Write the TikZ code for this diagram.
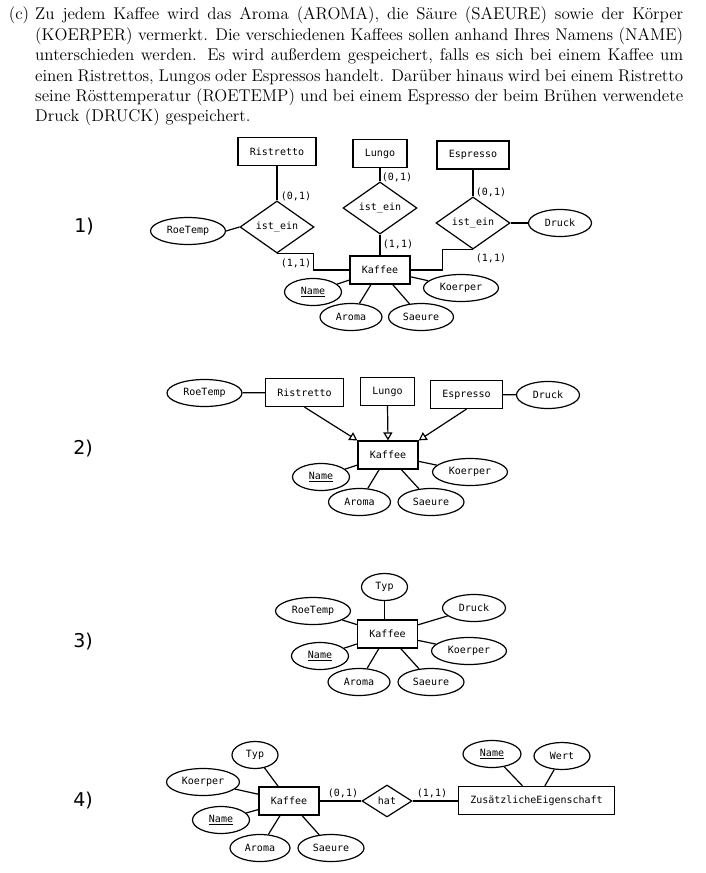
\documentclass[tikz,border=0pt]{standalone}
\usepackage{fontspec}
\usepackage{tikz}
\usetikzlibrary{arrows.meta,shapes.geometric}
\newfontfamily\taskfam{lmroman12-regular.otf}
\newfontfamily\ermonofam{DejaVu Sans Mono}
\newfontfamily\numfam{DejaVu Sans}
\newcommand{\taskfont}{\taskfam\fontsize{17pt}{20.4pt}\selectfont}
\newcommand{\ermono}{\ermonofam\fontsize{10pt}{12pt}\selectfont}
\newcommand{\numfont}{\numfam\fontsize{19pt}{22pt}\selectfont}
\tikzset{
	entity/.style={draw, rectangle, line width=1.2pt, inner xsep=12pt, minimum height=28pt, font=\ermono},
	attr/.style={draw, ellipse, line width=1.2pt, inner sep=0pt, minimum width=#1, minimum height=27pt, font=\ermono},
	rel/.style={draw, diamond, line width=1.2pt, inner sep=0pt, minimum width=74pt, minimum height=44pt, font=\ermono},
	card/.style={inner sep=0pt, font=\ermono},
	link/.style={line width=1.2pt},
	isa/.style={line width=1.2pt, -{Triangle[open, length=8pt, width=9pt]}},
	num/.style={inner sep=0pt, font=\numfont}
}

\begin{document}
\begin{tikzpicture}[x=1pt, y=-1pt]
		%%%%% START %%%%%
		\useasboundingbox (0, 0) rectangle (705, 873);
		
		\node[anchor=north west, inner sep=0pt, text width=648pt, align=justify, font=\taskfont] (task) at (35, 6.9) {\noindent\hyphenpenalty=10000\llap{(c)\hskip 6pt}Zu jedem Kaffee wird das Aroma (AROMA), die Säure (SAEURE) sowie der Körper\linebreak
		(KOERPER) vermerkt. Die verschiedenen Kaffees sollen anhand Ihres Namens (NAME)\linebreak
		unterschieden werden. Es wird außerdem gespeichert, falls es sich bei einem Kaffee um\linebreak
		einen Ristrettos, Lungos oder Espressos handelt. Darüber hinaus wird bei einem Ristretto\linebreak
		seine Rösttemperatur (ROETEMP) und bei einem Espresso der beim Brühen verwendete\linebreak
		Druck (DRUCK) gespeichert.\par};
		
		%%%%% 1) %%%%%
		\node[num] (one) at (84, 227) {1)};
		
		\node[entity] (rist1) at (277, 151.5) {Ristretto};
		\node[entity] (lungo1) at (380, 153.5) {Lungo};
		\node[entity] (esp1) at (473, 155) {Espresso};
		\node[rel] (rel1) at (277, 227) {ist\_ein};
		\node[rel] (rel2) at (380, 208) {ist\_ein};
		\node[rel] (rel3) at (473, 223) {ist\_ein};
		\node[attr=75pt] (roe1) at (188, 231) {RoeTemp};
		\node[attr=63pt] (druck1) at (560, 223) {Druck};
		\node[entity] (kaf1) at (380, 270) {Kaffee};
		\node[attr=57pt] (name1) at (313, 292) {\underline{Name}};
		\node[attr=62pt] (aroma1) at (351, 317) {Aroma};
		\node[attr=65pt] (saeure1) at (421, 317) {Saeure};
		\node[attr=75pt] (koerper1) at (461, 288) {Koerper};
		
		\draw[link] (rist1.south) -- (rel1.north);
		\draw[link] (lungo1.south) -- (rel2.north);
		\draw[link] (esp1.south) -- (rel3.north);
		\draw[link] (roe1.east) -- (rel1.west);
		\draw[link] (rel3.east) -- (druck1.west);
		\draw[link] (rel1.south) -| ([xshift=-36pt]kaf1.west) -- (kaf1.west);
		\draw[link] (rel2.south) -- (kaf1.north);
		\draw[link] (kaf1.east) -- ([xshift=32pt]kaf1.east) |- (rel3.south);
		\draw[link] (kaf1) -- (name1);
		\draw[link] (kaf1) -- (aroma1);
		\draw[link] (kaf1) -- (saeure1);
		\draw[link] (kaf1) -- (koerper1);
		
		\node[card] (c11) at (296, 196) {(0,1)};
		\node[card] (c12) at (397, 177) {(0,1)};
		\node[card] (c13) at (491, 192) {(0,1)};
		\node[card] (c14) at (296, 263) {(1,1)};
		\node[card] (c15) at (398, 244) {(1,1)};
		\node[card] (c16) at (491, 258) {(1,1)};
		
		%%%%% 2) %%%%%
		\node[num] (two) at (83, 449) {2)};
		
		\node[attr=75pt] (roe2) at (204.5, 393) {RoeTemp};
		\node[entity] (rist2) at (304.5, 392.5) {Ristretto};
		\node[entity] (lungo2) at (387.5, 391.5) {Lungo};
		\node[entity] (esp2) at (466.5, 394.5) {Espresso};
		\node[attr=63pt] (druck2) at (548, 395) {Druck};
		\node[entity] (kaf2) at (388, 455) {Kaffee};
		\node[attr=57pt] (name2) at (321, 477) {\underline{Name}};
		\node[attr=62pt] (aroma2) at (359.5, 502) {Aroma};
		\node[attr=66pt] (saeure2) at (431, 502) {Saeure};
		\node[attr=75pt] (koerper2) at (470, 472) {Koerper};
		
		\draw[link] (roe2) -- (rist2);
		\draw[link] (esp2) -- (druck2);
		\draw[isa] (rist2.south) -- (kaf2.north west);
		\draw[isa] (lungo2.south) -- (kaf2.north);
		\draw[isa] (esp2.south) -- (kaf2.north east);
		\draw[link] (kaf2) -- (name2);
		\draw[link] (kaf2) -- (aroma2);
		\draw[link] (kaf2) -- (saeure2);
		\draw[link] (kaf2) -- (koerper2);
		
		%%%%% 3) %%%%%
		\node[num] (three) at (83, 642) {3)};
		
		\node[attr=46pt] (typ3) at (384.5, 587) {Typ};
		\node[attr=75pt] (roe3) at (313, 611) {RoeTemp};
		\node[attr=63pt] (druck3) at (474, 608) {Druck};
		\node[entity] (kaf3) at (387.5, 634) {Kaffee};
		\node[attr=57pt] (name3) at (320, 656) {\underline{Name}};
		\node[attr=75pt] (koerper3) at (469, 651) {Koerper};
		\node[attr=62pt] (aroma3) at (359, 682) {Aroma};
		\node[attr=66pt] (saeure3) at (431, 682) {Saeure};
		
		\draw[link] (typ3) -- (kaf3.north -| typ3);
		\draw[link] (kaf3) -- (roe3);
		\draw[link] (kaf3) -- (druck3);
		\draw[link] (kaf3) -- (name3);
		\draw[link] (kaf3) -- (koerper3);
		\draw[link] (kaf3) -- (aroma3);
		\draw[link] (kaf3) -- (saeure3);
		
		%%%%% 4) %%%%%
		\node[num] (four) at (83, 801) {4)};
		
		\node[attr=46pt] (typ4) at (255, 755) {Typ};
		\node[attr=73pt] (koerper4) at (203, 782) {Koerper};
		\node[entity] (kaf4) at (289, 801) {Kaffee};
		\node[attr=57pt] (name4) at (221, 820) {\underline{Name}};
		\node[attr=60pt] (aroma4) at (260, 848) {Aroma};
		\node[attr=66pt] (saeure4) at (331, 848) {Saeure};
		\node[rel, minimum width=50pt, minimum height=32pt] (hat4) at (387, 801) {hat};
		\node[entity] (zus4) at (536.5, 800.5) {ZusätzlicheEigenschaft};
		\node[attr=58pt] (namez4) at (492, 754) {\underline{Name}};
		\node[attr=56pt] (wert4) at (562, 756) {Wert};
		
		\draw[link] (kaf4) -- (typ4);
		\draw[link] (kaf4) -- (koerper4);
		\draw[link] (kaf4) -- (name4);
		\draw[link] (kaf4) -- (aroma4);
		\draw[link] (kaf4) -- (saeure4);
		\draw[link] (kaf4.east) -- (hat4.west);
		\draw[link] (hat4.east) -- (zus4.west |- hat4.east);
		\draw[link] (zus4) -- (namez4);
		\draw[link] (zus4) -- (wert4);
		
		\node[card] (c41) at (343, 793) {(0,1)};
		\node[card] (c42) at (432, 793) {(1,1)};
		
		%%%%% END %%%%%
\end{tikzpicture}
\end{document}
